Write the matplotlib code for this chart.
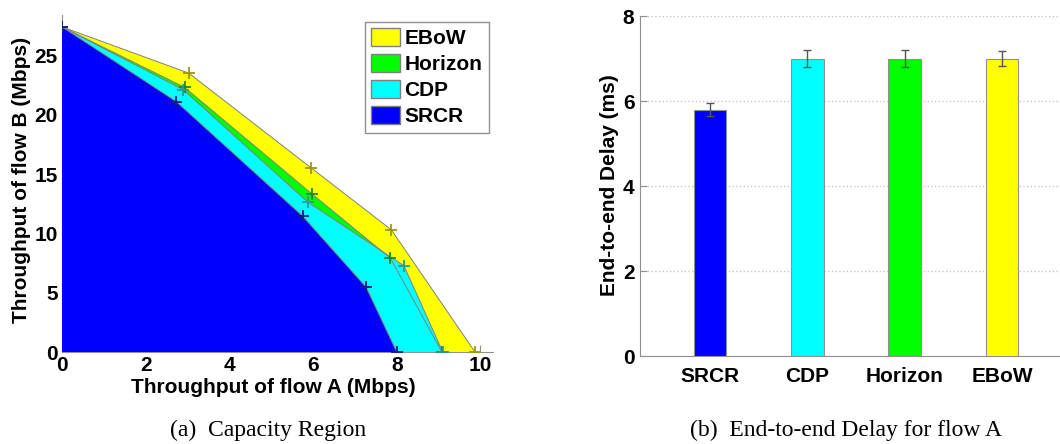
import numpy as np
import matplotlib.pyplot as plt
from matplotlib.patches import Patch

plt.rcParams['font.family'] = ['Liberation Sans', 'DejaVu Sans']

# Capacity region corner points (Mbps)
srcr_a = [0.0, 2.73, 5.75, 7.27, 8.0]
srcr_b = [27.4, 21.1, 11.45, 5.45, 0.0]
cdp_a = [0.0, 2.9, 5.87, 8.17, 9.1]
cdp_b = [27.4, 22.1, 12.65, 7.27, 0.0]
horizon_a = [0.0, 2.93, 5.98, 7.85, 9.08]
horizon_b = [27.4, 22.3, 13.3, 7.9, 0.0]
ebow_a = [0.0, 3.03, 5.96, 7.87, 9.87]
ebow_b = [27.4, 23.5, 15.5, 10.3, 0.0]

# End-to-end delay for flow A (ms)
schemes = ['SRCR', 'CDP', 'Horizon', 'EBoW']
delay = [5.8, 7.0, 7.0, 7.0]
delay_err = [0.16, 0.2, 0.21, 0.18]

colors = ['#0000ff', '#00ffff', '#00ff00', '#ffff00']
mark_colors = ['#1a1a80', '#2a9a9a', '#1f8a1f', '#9a9a10']

W, H = 1060, 444
fig = plt.figure(figsize=(W / 100, H / 100), dpi=100)

# ---- (a) capacity region
ax1 = fig.add_axes([62 / W, 1 - 352 / H, 431 / W, 337 / H])
series = [(ebow_a, ebow_b), (horizon_a, horizon_b), (cdp_a, cdp_b), (srcr_a, srcr_b)]
fill_cols = [colors[3], colors[2], colors[1], colors[0]]
mk_cols = [mark_colors[3], mark_colors[2], mark_colors[1], mark_colors[0]]
for k, (xa, yb) in enumerate(series):
    px = [0.0] + list(xa)
    py = [0.0] + list(yb)
    ax1.fill(px, py, facecolor=fill_cols[k], edgecolor='none', zorder=3 + k * 0.1)
# outlines and markers on top of all fills
for k, (xa, yb) in enumerate(series):
    ax1.plot(xa, yb, color='#808080', lw=0.7, zorder=8)
    ax1.plot(xa, yb, ls='none', marker='+', ms=8, mew=1.3, color=mk_cols[k], zorder=9 + k)

ax1.set_xlim(0, 10.3)
ax1.set_ylim(0, 28.4)
ax1.set_xticks([0, 2, 4, 6, 8, 10])
ax1.set_yticks([0, 5, 10, 15, 20, 25])
for s in ['top', 'right']:
    ax1.spines[s].set_visible(False)
for s in ['left', 'bottom']:
    ax1.spines[s].set_color('#909090')
    ax1.spines[s].set_zorder(1)
ax1.tick_params(direction='in', length=5, color='#909090', labelsize=15, pad=3)
for lab in ax1.get_xticklabels() + ax1.get_yticklabels():
    lab.set_fontweight('bold')
ax1.set_xlabel('Throughput of flow A (Mbps)', fontsize=15, fontweight='bold')
ax1.set_ylabel('Throughput of flow B (Mbps)', fontsize=15, fontweight='bold')
ax1.xaxis.set_label_coords(0.49, -0.078)
ax1.yaxis.set_label_coords(-0.072, 0.51)

handles = [Patch(facecolor=colors[3], edgecolor='#808080', label='EBoW'),
           Patch(facecolor=colors[2], edgecolor='#808080', label='Horizon'),
           Patch(facecolor=colors[1], edgecolor='#808080', label='CDP'),
           Patch(facecolor=colors[0], edgecolor='#808080', label='SRCR')]
leg = fig.legend(handles=handles, loc='upper left', bbox_to_anchor=(365 / W, 1 - 22 / H),
                 prop={'weight': 'bold', 'size': 15}, fancybox=False, framealpha=1,
                 edgecolor='#909090', handlelength=1.4, handleheight=0.9,
                 handletextpad=0.2, labelspacing=0.3, borderpad=0.3, borderaxespad=0)

# ---- (b) delay bars
ax2 = fig.add_axes([640 / W, 1 - 356 / H, 420 / W, 340 / H])
pos = np.arange(1, len(schemes) + 1)
ax2.bar(pos, delay, width=0.336, color=colors, edgecolor='#909090', lw=0.8, zorder=3)
ax2.errorbar(pos, delay, yerr=delay_err, fmt='none', ecolor='#555555', elinewidth=1,
             capsize=3, capthick=1, zorder=4)
ax2.set_xlim(0.28, 4.596)
ax2.set_ylim(0, 8)
ax2.set_yticks([0, 2, 4, 6, 8])
ax2.set_xticks(pos)
ax2.set_xticklabels(schemes)
ax2.yaxis.grid(True, ls=':', color='#c8c8c8', lw=1)
ax2.set_axisbelow(True)
for s in ['top', 'right']:
    ax2.spines[s].set_visible(False)
for s in ['left', 'bottom']:
    ax2.spines[s].set_color('#909090')
ax2.tick_params(axis='y', direction='in', length=5, color='#909090', labelsize=15, pad=4)
ax2.tick_params(axis='x', length=0, labelsize=15, pad=8)
for lab in ax2.get_xticklabels() + ax2.get_yticklabels():
    lab.set_fontweight('bold')
ax2.set_ylabel('End-to-end Delay (ms)', fontsize=15, fontweight='bold')
ax2.yaxis.set_label_coords(-0.05, 0.503)

# captions
fig.text(268 / W, 1 - 430 / H, '(a)  Capacity Region', ha='center', va='center',
         family='Liberation Serif', fontsize=17)
fig.text(846 / W, 1 - 430 / H, '(b)  End-to-end Delay for flow A', ha='center', va='center',
         family='Liberation Serif', fontsize=17)

fig.savefig('out.png', dpi=100)
